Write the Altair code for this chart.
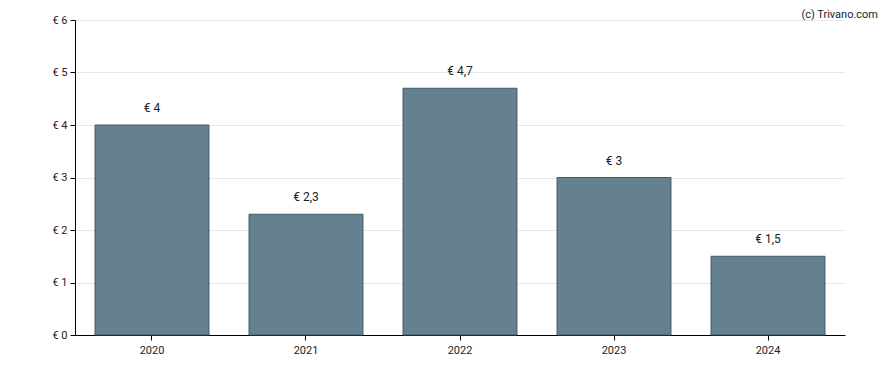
import altair as alt
import pandas as pd

years = ["2020", "2021", "2022", "2023", "2024"]
values = [4.0, 2.3, 4.7, 3.0, 1.5]
labels = ["€ 4", "€ 2,3", "€ 4,7", "€ 3", "€ 1,5"]

df = pd.DataFrame({"year": years, "value": values, "label": labels})

FONT = "Roboto"

x = alt.X("year:N", title=None, sort=years,
          scale=alt.Scale(paddingInner=0.26, paddingOuter=0.13),
          axis=alt.Axis(labelAngle=0, domainColor="#000", tickColor="#000",
                        tickSize=5, labelPadding=4, labelFontSize=11,
                        labelColor="#222", labelFont=FONT, grid=False))
y = alt.Y("value:Q", title=None,
          scale=alt.Scale(domain=[0, 6], nice=False),
          axis=alt.Axis(values=[0, 1, 2, 3, 4, 5, 6], labelExpr="'€ ' + datum.value",
                        domainColor="#000", tickColor="#000", tickSize=5,
                        labelPadding=3, labelFontSize=11, labelColor="#222",
                        labelFont=FONT, gridColor="#e8e8e8", gridWidth=1))

bars = alt.Chart(df).mark_bar(color="#65808f", stroke="#415b6d", strokeWidth=1).encode(x=x, y=y)

text = alt.Chart(df).mark_text(baseline="alphabetic", dy=-13, fontSize=12,
                               font=FONT, color="#222").encode(
    x=alt.X("year:N", sort=years), y="value:Q", text="label:N")

credit = alt.Chart(pd.DataFrame({"t": ["(c) Trivano.com"]})).mark_text(
    align="right", baseline="top", fontSize=11, font=FONT, color="#222"
).encode(x=alt.value(803), y=alt.value(-11), text="t:N")

chart = (bars + text + credit).properties(
    width=770, height=315,
    autosize=alt.AutoSizeParams(type="none"),
    padding={"left": 67, "top": 12, "right": 35, "bottom": 27},
).configure_view(stroke=None)

chart.save("out.html", embed_options={"renderer": "svg", "actions": False})
